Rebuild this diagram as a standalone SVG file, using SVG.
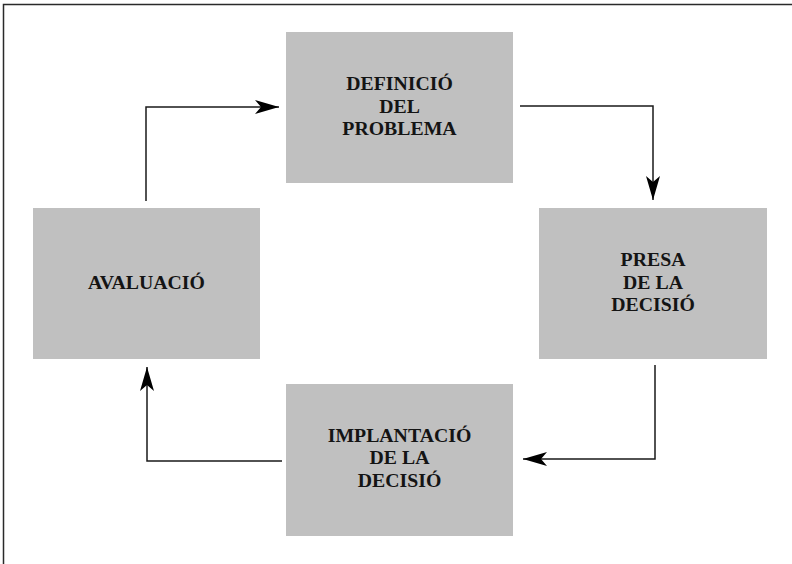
<svg xmlns="http://www.w3.org/2000/svg" width="792" height="564" viewBox="0 0 792 564">
<style>
.box{fill:#c0c0c0;}
.lbl{font-family:"Liberation Serif","Times New Roman",serif;font-weight:bold;font-size:19.8px;fill:#141414;text-anchor:middle;}
.conn{fill:none;stroke:#1a1a1a;stroke-width:1.5;}
</style>
<defs>
<marker id="arr" markerUnits="userSpaceOnUse" markerWidth="26" markerHeight="16" viewBox="0 0 26 16" refX="24" refY="8" orient="auto">
<path d="M0,1 L24,8 L0,15 L6,8 Z" fill="#000"/>
</marker>
</defs>
<rect width="792" height="564" fill="#fff"/>
<path d="M3.5,564 V4.5 H792" fill="none" stroke="#2a2a2a" stroke-width="1.5"/>
<g id="definicio">
<rect class="box" x="286" y="32" width="227" height="151"/>
<text class="lbl" x="399.5" y="90">DEFINICIÓ</text>
<text class="lbl" x="399.5" y="113">DEL</text>
<text class="lbl" x="399.5" y="135">PROBLEMA</text>
</g>
<g id="presa">
<rect class="box" x="539" y="208" width="228" height="151"/>
<text class="lbl" x="653" y="266">PRESA</text>
<text class="lbl" x="653" y="289">DE LA</text>
<text class="lbl" x="653" y="311">DECISIÓ</text>
</g>
<g id="implantacio">
<rect class="box" x="286" y="384" width="227" height="152"/>
<text class="lbl" x="399.5" y="442">IMPLANTACIÓ</text>
<text class="lbl" x="399.5" y="464">DE LA</text>
<text class="lbl" x="399.5" y="487">DECISIÓ</text>
</g>
<g id="avaluacio">
<rect class="box" x="33" y="208" width="227" height="151"/>
<text class="lbl" x="146.5" y="289">AVALUACIÓ</text>
</g>
<g id="connectors">
<path class="conn" d="M146,201 V107 H279" marker-end="url(#arr)"/>
<path class="conn" d="M520,106 H653 V200" marker-end="url(#arr)"/>
<path class="conn" d="M655,365 V459 H523" marker-end="url(#arr)"/>
<path class="conn" d="M282,461 H147 V367" marker-end="url(#arr)"/>
</g>
</svg>
